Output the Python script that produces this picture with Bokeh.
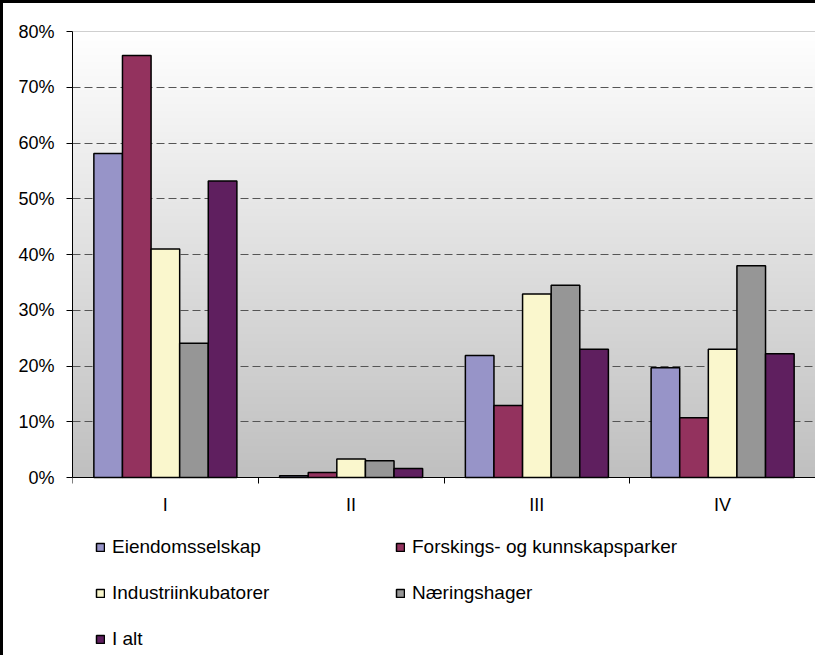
import numpy as np
from bokeh.plotting import figure
from bokeh.models import Range1d, FixedTicker, PrintfTickFormatter, Legend, LegendItem
from bokeh.embed import file_html
from bokeh.resources import INLINE

# ---- data ----
categories = ["I", "II", "III", "IV"]
series_names = ["Eiendomsselskap", "Forskings- og kunnskapsparker",
                "Industriinkubatorer", "Næringshager", "I alt"]
eiendomsselskap = [58.1, 0.3, 21.9, 19.7]
forskingsparker = [75.7, 0.9, 12.9, 10.7]
industriinkubatorer = [41.0, 3.3, 32.9, 23.0]
naeringshager = [24.1, 3.0, 34.5, 38.0]
i_alt = [53.2, 1.6, 23.0, 22.2]
y_ticks = [0, 10, 20, 30, 40, 50, 60, 70, 80]
colors = ["#9794c8", "#93325e", "#faf7cd", "#969696", "#5f1f5f"]

series = [eiendomsselskap, forskingsparker, industriinkubatorer, naeringshager, i_alt]

# ---- layout constants ----
FONT = "Liberation Sans"
BORDER = 3
LEFT, TOP = 69, 28
FRAME_W, FRAME_H = 743, 624
PLOT_H = 446                      # pixels spanned by the value axis (0..80)
px_per_unit = PLOT_H / (y_ticks[-1] - y_ticks[0])
y_min = y_ticks[-1] - FRAME_H / px_per_unit   # frame extends below 0 to hold the legend

p = figure(frame_width=FRAME_W, frame_height=FRAME_H,
           x_range=Range1d(0, len(categories)),
           y_range=Range1d(y_min, y_ticks[-1]),
           output_backend="svg", toolbar_location=None,
           min_border_left=LEFT, min_border_right=0,
           min_border_top=TOP, min_border_bottom=0)
p.title.visible = False
p.styles = {"border-left": f"{BORDER}px solid black", "border-top": f"{BORDER}px solid black"}

# gradient background of the plot area (white at top -> light gray at bottom)
rows = 128
g = np.linspace(192, 255, rows).astype(np.uint8)
img = np.empty((rows, 1), dtype=np.uint32)
view = img.view(dtype=np.uint8).reshape((rows, 1, 4))
view[:, 0, 0] = g
view[:, 0, 1] = g
view[:, 0, 2] = g
view[:, 0, 3] = 255
p.image_rgba(image=[img], x=0, y=y_ticks[0], dw=len(categories),
             dh=y_ticks[-1] - y_ticks[0], level="image")

# plot-area box (top and right edges visible)
p.quad(left=0, right=len(categories), bottom=y_ticks[0], top=y_ticks[-1],
       fill_color=None, line_color="#a0a0a0", line_width=1, level="underlay")

# bars
bw = 0.154
renderers = []
for j, vals in enumerate(series):
    xs = [i + 0.5 + (j - 2) * bw for i in range(len(categories))]
    r = p.vbar(x=xs, top=vals, bottom=0, width=bw, fill_color=colors[j],
               line_color="black", line_width=1.5)
    renderers.append(r)

# axes
p.xaxis.fixed_location = 0
p.xaxis.ticker = FixedTicker(ticks=[i + 0.5 for i in range(len(categories))],
                             minor_ticks=list(range(len(categories) + 1)))
p.xaxis.major_label_overrides = {i + 0.5: c for i, c in enumerate(categories)}
p.xaxis.major_tick_out = 0
p.xaxis.major_tick_in = 0
p.xaxis.minor_tick_out = 6
p.xaxis.minor_tick_in = 0
p.xaxis.minor_tick_line_color = "black"
p.xaxis.major_label_standoff = 11

p.yaxis.bounds = (y_ticks[0], y_ticks[-1])
p.yaxis.ticker = FixedTicker(ticks=y_ticks)
p.yaxis.formatter = PrintfTickFormatter(format="%d%%")
p.yaxis.major_tick_out = 6
p.yaxis.major_tick_in = 0
p.yaxis.minor_tick_out = 0
p.yaxis.minor_tick_in = 0
p.yaxis.major_label_standoff = 12

for ax in (p.xaxis, p.yaxis):
    ax.axis_line_color = "black"
    ax.major_tick_line_color = "black"
    ax.major_label_text_font = FONT
    ax.major_label_text_font_size = "18px"
    ax.major_label_text_color = "black"

p.xgrid.visible = False
p.ygrid.ticker = FixedTicker(ticks=y_ticks[1:-1])
p.ygrid.grid_line_color = "#555555"
p.ygrid.grid_line_dash = "8 4"
p.ygrid.grid_line_width = 1

p.outline_line_color = None
p.background_fill_color = "white"
p.border_fill_color = "white"

# legend: 2 columns, row-major, inside the (extended) frame below the axis
leg = Legend(items=[LegendItem(label=n, renderers=[r]) for n, r in zip(series_names, renderers)],
             orientation="horizontal", ncols=2, location=(23, 5))
leg.glyph_width = 10
leg.glyph_height = 10
leg.label_standoff = 7
leg.label_width = 259
leg.spacing = 24
leg.padding = 0
leg.margin = 0
leg.border_line_color = None
leg.background_fill_alpha = 0
leg.label_text_font = FONT
leg.label_text_font_size = "19px"
leg.label_text_color = "black"
leg.label_height = 22
p.add_layout(leg)

open("out.html", "w").write(file_html(p, INLINE))
